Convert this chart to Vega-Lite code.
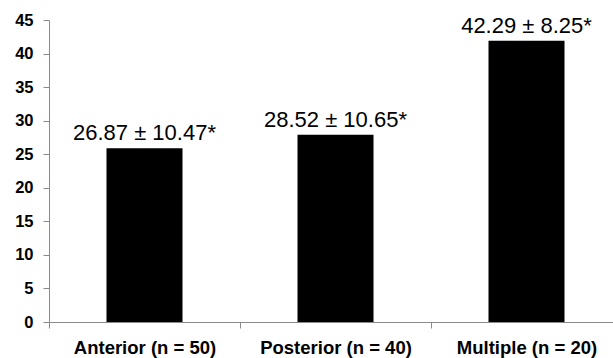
{
  "$schema": "https://vega.github.io/schema/vega-lite/v6.json",
  "autosize": "none",
  "width": 564,
  "height": 302,
  "padding": {"left": 49, "top": 20, "right": 0, "bottom": 36},
  "background": "white",
  "config": {"view": {"stroke": null}, "font": "Liberation Sans"},
  "data": {
    "values": [
      {"group": "Anterior (n = 50)", "value": 25.9, "label": "26.87 ± 10.47*"},
      {"group": "Posterior (n = 40)", "value": 27.9, "label": "28.52 ± 10.65*"},
      {"group": "Multiple (n = 20)", "value": 41.9, "label": "42.29 ± 8.25*"}
    ]
  },
  "encoding": {
    "x": {
      "field": "group", "type": "nominal", "sort": null,
      "scale": {"range": [0, 573], "paddingInner": 0, "paddingOuter": 0},
      "axis": {
        "title": null, "labelAngle": 0, "tickBand": "extent",
        "tickSize": 6, "tickColor": "#8a8a8a", "domainColor": "#8a8a8a",
        "labelFont": "Liberation Sans", "labelFontSize": 18.5, "labelFontWeight": "bold",
        "labelColor": "black", "labelPadding": 10
      }
    },
    "y": {
      "field": "value", "type": "quantitative",
      "scale": {"domain": [0, 45], "nice": false},
      "axis": {
        "title": null, "values": [0, 5, 10, 15, 20, 25, 30, 35, 40, 45], "grid": false,
        "tickSize": 6, "tickColor": "#8a8a8a", "domainColor": "#8a8a8a",
        "labelFont": "Liberation Sans", "labelFontSize": 16.5, "labelFontWeight": "bold",
        "labelColor": "black", "labelPadding": 10
      }
    }
  },
  "layer": [
    {"mark": {"type": "bar", "color": "black", "width": 76}},
    {
      "mark": {"type": "text", "font": "Liberation Sans", "fontSize": 22, "color": "black", "baseline": "alphabetic", "dy": -8},
      "encoding": {"text": {"field": "label"}}
    }
  ]
}
